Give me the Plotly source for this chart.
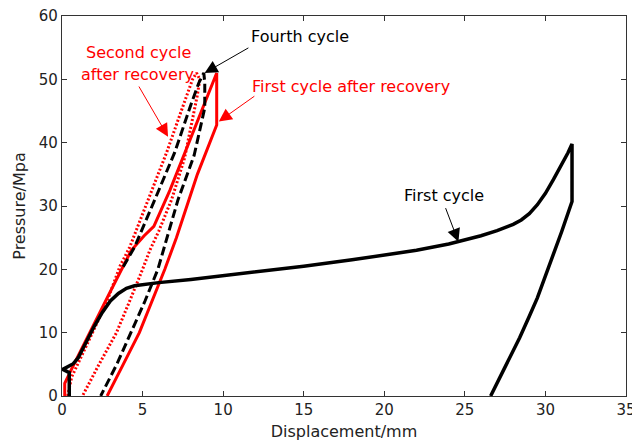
import plotly.graph_objects as go

# ---------------- data ----------------
# First cycle (black solid)
first_x = [0.45, 0.45, 0.05, 0.3, 0.7, 1.0, 1.5, 2.0, 2.5, 3.0, 3.5, 4.0, 4.5, 5.0, 6.0, 8.0,
           10.0, 12.0, 15.0, 18.0, 20.0, 22.0, 24.0, 25.0, 26.0, 27.0, 27.5, 28.0, 28.5, 29.0,
           29.5, 30.0, 30.5, 31.0, 31.4, 31.65, 31.65, 31.0, 30.5, 30.0, 29.5, 29.0, 28.4, 27.5, 26.6]
first_y = [0.0, 3.7, 4.2, 4.5, 5.1, 6.0, 8.6, 11.0, 13.2, 15.0, 16.2, 17.0, 17.4, 17.6, 17.9, 18.4,
           19.0, 19.5, 20.5, 21.5, 22.2, 23.0, 24.0, 24.6, 25.3, 26.1, 26.6, 27.1, 27.8, 28.8,
           30.2, 32.0, 34.2, 36.5, 38.4, 39.8, 30.7, 25.9, 22.3, 18.9, 15.5, 12.6, 9.2, 4.6, 0.0]

# Fourth cycle (black dashed)
fourth_x = [3.8, 4.5, 5.76, 7.0, 8.0, 8.5, 8.8, 8.86, 8.86, 8.2, 7.2, 6.4, 5.95, 5.15, 4.3, 3.4, 2.4]
fourth_y = [20.4, 23.5, 31.0, 38.5, 46.0, 49.5, 51.0, 49.5, 45.5, 38.0, 31.0, 24.0, 20.0, 15.0, 10.0, 5.0, 0.0]

# First cycle after recovery (red solid)
rec1_x = [0.17, 0.17, 0.6, 1.7, 2.8, 3.9, 4.3, 5.1, 5.7, 6.7, 7.8, 8.7, 9.6, 9.6, 9.0, 8.4, 7.75,
          7.1, 6.38, 5.6, 4.8, 3.8, 2.8]
rec1_y = [0.0, 2.0, 4.3, 10.0, 15.5, 21.0, 23.0, 25.3, 26.8, 32.5, 39.5, 45.2, 51.0, 42.8, 39.0,
          35.0, 30.0, 25.0, 20.0, 15.0, 10.0, 5.0, 0.0]

# Second cycle after recovery (red dotted)
rec2_x = [0.35, 0.6, 1.8, 2.8, 3.6, 4.2, 5.35, 6.5, 7.4, 8.1, 8.35, 8.55, 8.4, 7.6, 6.8, 6.0,
          5.45, 5.0, 4.2, 3.38, 2.3, 1.27]
rec2_y = [0.0, 3.0, 9.5, 15.0, 20.5, 23.5, 31.0, 38.5, 45.0, 50.0, 51.0, 50.0, 47.5, 37.5, 31.0,
          26.0, 23.0, 20.0, 15.0, 10.0, 5.0, 0.0]

x_ticks = [0, 5, 10, 15, 20, 25, 30, 35]
y_ticks = [0, 10, 20, 30, 40, 50, 60]

x_label = "Displacement/mm"
y_label = "Pressure/Mpa"

FONT = "DejaVu Sans"

fig = go.Figure()
fig.add_trace(go.Scatter(x=rec2_x, y=rec2_y, mode="lines", name="Second cycle after recovery",
                         line=dict(color="#ff0000", width=3, dash="2px,2px")))
fig.add_trace(go.Scatter(x=rec1_x, y=rec1_y, mode="lines", name="First cycle after recovery",
                         line=dict(color="#ff0000", width=3)))
fig.add_trace(go.Scatter(x=fourth_x, y=fourth_y, mode="lines", name="Fourth cycle",
                         line=dict(color="#000000", width=3, dash="9px,4px")))
fig.add_trace(go.Scatter(x=first_x, y=first_y, mode="lines", name="First cycle",
                         line=dict(color="#000000", width=3.5)))

axis_common = dict(showgrid=False, zeroline=False, showline=True, linecolor="#333333",
                   linewidth=1.2, mirror="ticks", ticks="inside", ticklen=5, tickwidth=1,
                   tickcolor="#333333", automargin=False, ticklabeloverflow="allow",
                   tickfont=dict(family=FONT, size=15, color="#222222"))

fig.update_layout(
    width=632, height=444,
    margin=dict(l=62, r=6, t=16, b=48),
    plot_bgcolor="white", paper_bgcolor="white",
    showlegend=False,
    xaxis=dict(range=[0, 35], tickvals=x_ticks, ticktext=[str(v) for v in x_ticks],
               title=dict(text=x_label, font=dict(family=FONT, size=16, color="#222222"), standoff=7),
               **axis_common),
    yaxis=dict(range=[0, 60], tickvals=y_ticks, ticktext=[str(v) for v in y_ticks],
               title=dict(text=y_label, font=dict(family=FONT, size=16, color="#222222"), standoff=9),
               **axis_common),
)

txt = dict(family=FONT, size=16)
# Text labels
fig.add_annotation(x=14.8, y=56.7, text="Fourth cycle", showarrow=False, font=dict(color="#000000", **txt))
fig.add_annotation(x=17.95, y=48.9, text="First cycle after recovery", showarrow=False,
                   font=dict(color="#ff0000", **txt))
fig.add_annotation(x=4.76, y=54.3, text="Second cycle", showarrow=False, font=dict(color="#ff0000", **txt))
fig.add_annotation(x=4.7, y=50.7, text="after recovery", showarrow=False, font=dict(color="#ff0000", **txt))
fig.add_annotation(x=23.7, y=31.65, text="First cycle", showarrow=False, font=dict(color="#000000", **txt))

# Arrows
arrow_common = dict(xref="x", yref="y", axref="x", ayref="y", text="", showarrow=True,
                    arrowhead=2, arrowsize=2.6, arrowwidth=1)
fig.add_annotation(x=8.85, y=51.0, ax=11.66, ay=55.1, arrowcolor="#000000", **arrow_common)
fig.add_annotation(x=9.73, y=43.35, ax=12.03, ay=47.5, arrowcolor="#ff0000", **arrow_common)
fig.add_annotation(x=6.58, y=40.95, ax=4.72, ay=49.1, arrowcolor="#ff0000", **arrow_common)
fig.add_annotation(x=24.6, y=24.35, ax=23.77, ay=29.9, arrowcolor="#000000", **arrow_common)

fig.write_html("out.html", config={"displayModeBar": False},
               post_script="document.body.style.margin='0';document.body.style.overflow='hidden';")
